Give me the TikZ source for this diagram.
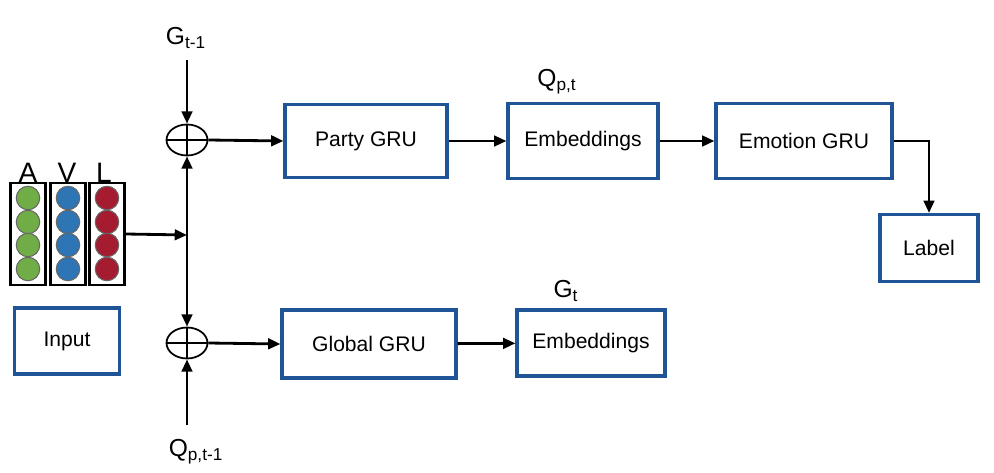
\documentclass[tikz,border=0pt]{standalone}
\usepackage{fontspec}
\setmainfont{Liberation Sans}
\usetikzlibrary{arrows.meta,shapes.geometric}
\definecolor{boxblue}{RGB}{31,85,150}
\definecolor{dotgreen}{RGB}{112,173,71}
\definecolor{dotblue}{RGB}{46,117,182}
\definecolor{dotred}{RGB}{165,27,48}
\begin{document}
\begin{tikzpicture}[
		x=0.02cm, y=-0.02cm,
		block/.style={draw=boxblue, line width=1.8pt, fill=white, font=\fontsize{12}{14}\selectfont},
		sum/.style={ellipse, draw, line width=1pt, minimum width=0.82cm, minimum height=0.62cm, inner sep=0pt,
				path picture={\draw[line width=1pt] (path picture bounding box.north) -- (path picture bounding box.south)
						(path picture bounding box.west) -- (path picture bounding box.east);}},
		column/.style={draw, line width=1.6pt, minimum width=0.7cm, minimum height=2.04cm, inner sep=0pt},
		dot/.style={circle, draw=black!60, line width=0.6pt, minimum size=0.47cm, inner sep=0pt},
		arr/.style={line width=1.6pt, -{Triangle[length=7pt,width=6pt]}},
		lab/.style={font=\fontsize{14}{16}\selectfont}
	]
	\useasboundingbox (0,0) rectangle (994,473);

	% input
	\node[column] (colA) at (28,234) {};
	\node[column] (colV) at (68,234) {};
	\node[column] (colL) at (107,234) {};
	\foreach \c/\col in {A/dotgreen, V/dotblue, L/dotred} {
		\foreach \y in {198,222,245,269}
			\node[dot, fill=\col] at (col\c.center |- 0,\y) {};
	}
	\node[font=\fontsize{16}{18}\selectfont] at (28,173) {A};
	\node[font=\fontsize{16}{18}\selectfont] at (67,173) {V};
	\node[font=\fontsize{16}{18}\selectfont] at (104,173) {L};
	\node[block, minimum width=2.1cm, minimum height=1.32cm] (input) at (67,341) {Input};

	% sums
	\node[sum] (sumtop) at (187,140) {};
	\node[sum] (sumbot) at (187,343) {};
	\coordinate (junc) at (187,235);
	\node[lab] (gprev) at (186,38) {G\textsubscript{t-1}};
	\node[lab] (qprev) at (196,452) {Q\textsubscript{p,t-1}};
	\coordinate (gin) at (187,60);
	\coordinate (qin) at (187,425);

	% blocks
	\node[block, minimum width=3.24cm, minimum height=1.46cm] (party) at (366,141) {Party GRU};
	\node[block, minimum width=3.0cm, minimum height=1.5cm] (embtop) at (583,141) {Embeddings};
	\node[block, minimum width=3.52cm, minimum height=1.5cm] (emotion) at (804,141) {Emotion GRU};
	\node[block, minimum width=1.96cm, minimum height=1.34cm] (label) at (929,248) {Label};
	\node[block, minimum width=3.48cm, minimum height=1.36cm] (global) at (369,344) {Global GRU};
	\node[block, minimum width=2.96cm, minimum height=1.32cm] (embbot) at (591,343) {Embeddings};
	\node[lab] (qpt) at (557,82) {Q\textsubscript{p,t}};
	\node[lab] (gt) at (566,291) {G\textsubscript{t}};

	% connectors
	\draw[arr] (gin) -- (sumtop.north);
	\draw[arr] (qin) -- (sumbot.south);
	\draw[arr] (colL.east) -- (junc);
	\draw[arr] (junc) -- (sumtop.south);
	\draw[arr] (junc) -- (sumbot.north);
	\draw[arr] (sumtop.east) -- (party.west);
	\draw[arr] (sumbot.east) -- (global.west);
	\draw[arr] (party) -- (embtop);
	\draw[arr] (embtop) -- (emotion);
	\draw[arr] (global) -- (embbot);
	\draw[arr] (emotion.east) -| (label.north);
\end{tikzpicture}
\end{document}
